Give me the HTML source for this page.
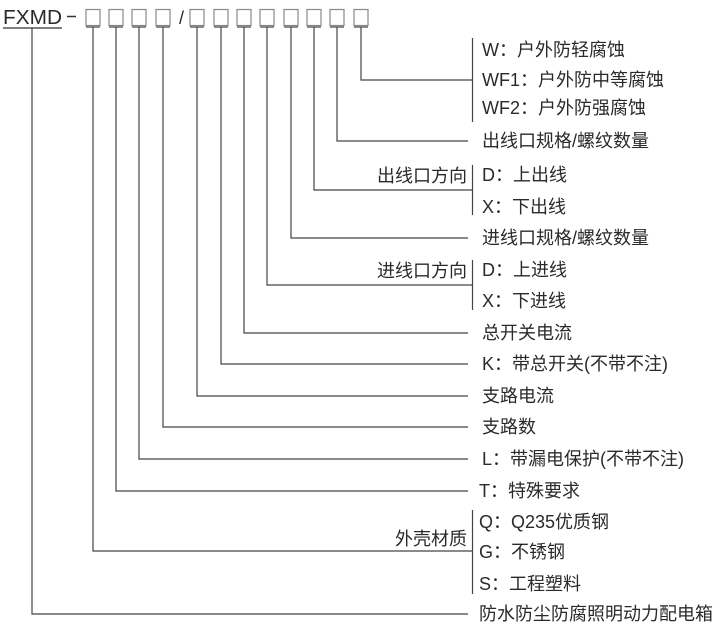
<!DOCTYPE html>
<html><head><meta charset="utf-8"><style>
html,body{margin:0;padding:0;background:#fff;}
svg{display:block}
text{font-family:"Liberation Sans","Noto Sans CJK SC",sans-serif;fill:#2a2a2a;font-size:18px}
</style></head><body>
<svg width="727" height="635" viewBox="0 0 727 635" xmlns="http://www.w3.org/2000/svg">
<text x="3" y="24" style="font-size:20px" textLength="59" lengthAdjust="spacingAndGlyphs">FXMD</text>
<line x1="3" y1="28" x2="62" y2="28" stroke="#333" stroke-width="1.2"/>
<line x1="67" y1="16.5" x2="76" y2="16.5" stroke="#333" stroke-width="1.5"/>
<text x="179" y="24" style="font-size:18px">/</text>
<g fill="none" stroke="#888" stroke-width="1.2">
<rect x="86" y="9.5" width="14" height="16"/>
<rect x="109" y="9.5" width="14" height="16"/>
<rect x="132" y="9.5" width="14" height="16"/>
<rect x="156" y="9.5" width="14" height="16"/>
<rect x="190" y="9.5" width="14" height="16"/>
<rect x="214" y="9.5" width="14" height="16"/>
<rect x="237" y="9.5" width="14" height="16"/>
<rect x="260" y="9.5" width="14" height="16"/>
<rect x="284" y="9.5" width="14" height="16"/>
<rect x="307" y="9.5" width="14" height="16"/>
<rect x="330" y="9.5" width="14" height="16"/>
<rect x="354" y="9.5" width="14" height="16"/>
</g>
<g fill="none" stroke="#444" stroke-width="1.2">
<line x1="86" y1="27" x2="100" y2="27"/><line x1="109" y1="27" x2="123" y2="27"/><line x1="132" y1="27" x2="146" y2="27"/><line x1="156" y1="27" x2="170" y2="27"/>
<line x1="190" y1="27" x2="204" y2="27"/><line x1="214" y1="27" x2="228" y2="27"/><line x1="237" y1="27" x2="251" y2="27"/><line x1="260" y1="27" x2="274" y2="27"/>
<line x1="284" y1="27" x2="298" y2="27"/><line x1="307" y1="27" x2="321" y2="27"/><line x1="330" y1="27" x2="344" y2="27"/><line x1="354" y1="27" x2="368" y2="27"/>
<polyline points="361,27 361,80 472,80"/>
<polyline points="337,27 337,141 468,141"/>
<polyline points="314,27 314,190 472,190"/>
<polyline points="291,27 291,238 468,238"/>
<polyline points="267,27 267,285 472,285"/>
<polyline points="244,27 244,333 468,333"/>
<polyline points="221,27 221,364 468,364"/>
<polyline points="197,27 197,396 468,396"/>
<polyline points="163,27 163,427 468,427"/>
<polyline points="139,27 139,459 468,459"/>
<polyline points="116,27 116,491 468,491"/>
<polyline points="93,27 93,551 472,551"/>
<polyline points="32,28 32,614 468,614"/>
<line x1="472.5" y1="38" x2="472.5" y2="122"/>
<line x1="472.5" y1="165" x2="472.5" y2="215"/>
<line x1="472.5" y1="260" x2="472.5" y2="310"/>
<line x1="472.5" y1="510" x2="472.5" y2="594"/>
</g>
<g>
<text x="482" y="56">W：户外防轻腐蚀</text>
<text x="482" y="86">WF1：户外防中等腐蚀</text>
<text x="482" y="114">WF2：户外防强腐蚀</text>
<text x="482" y="147">出线口规格/螺纹数量</text>
<text x="482" y="181">D：上出线</text>
<text x="482" y="213">X：下出线</text>
<text x="482" y="244">进线口规格/螺纹数量</text>
<text x="482" y="276">D：上进线</text>
<text x="482" y="307">X：下进线</text>
<text x="482" y="339">总开关电流</text>
<text x="482" y="370">K：带总开关(不带不注)</text>
<text x="482" y="402">支路电流</text>
<text x="482" y="433">支路数</text>
<text x="482" y="465">L：带漏电保护(不带不注)</text>
<text x="479" y="497">T：特殊要求</text>
<text x="479" y="528">Q：Q235优质钢</text>
<text x="479" y="558">G：不锈钢</text>
<text x="479" y="590">S：工程塑料</text>
<text x="479" y="620">防水防尘防腐照明动力配电箱</text>
<text x="467" y="182" text-anchor="end">出线口方向</text>
<text x="467" y="277" text-anchor="end">进线口方向</text>
<text x="467" y="545" text-anchor="end">外壳材质</text>
</g>
</svg>
</body></html>
